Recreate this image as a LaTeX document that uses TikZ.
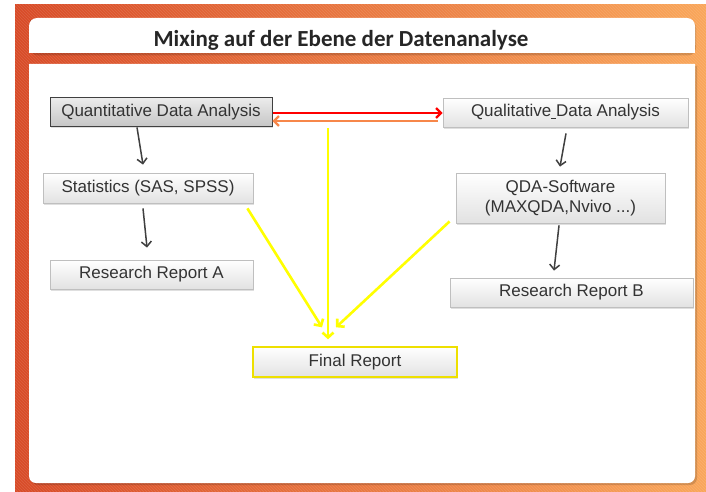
\documentclass[tikz,border=0pt]{standalone}
\usepackage{fontspec}
\setmainfont{Liberation Sans}
\newfontfamily\titlefont{Carlito}
\usetikzlibrary{arrows.meta,shadows,patterns,calc}
\definecolor{bgleft}{HTML}{D84B28}
\definecolor{bgright}{HTML}{F9A65A}
\definecolor{boxline}{HTML}{BFBFBF}
\definecolor{boxbot}{HTML}{E2E2E2}
\definecolor{txt}{HTML}{333333}
\definecolor{arrgray}{HTML}{404040}
\definecolor{yel}{HTML}{FFFF00}
\definecolor{yelline}{HTML}{EEE000}
\definecolor{redarr}{HTML}{FF0000}
\definecolor{orarr}{HTML}{F7874A}
\begin{document}
\begin{tikzpicture}[x=1pt,y=-1pt,
  box/.style={draw=boxline, line width=0.8pt, top color=white, bottom color=boxbot,
    text=txt, font=\fontsize{17}{20}\selectfont, inner sep=0pt, align=center,
    drop shadow={shadow xshift=1.2pt, shadow yshift=-1.5pt, opacity=0.25}},
  darkbox/.style={box, draw=arrgray, top color=white!85!gray, bottom color=gray!45},
  finalbox/.style={box, draw=yelline, line width=1.4pt},
  garrow/.style={draw=arrgray, line width=1.5pt, -{Straight Barb[length=5pt,width=10pt,line width=1.5pt]}},
  yarrow/.style={draw=yel, line width=2.6pt, -{Straight Barb[length=5pt,width=11pt,line width=2.6pt]}},
  rarrow/.style={draw=redarr, line width=2.2pt, -{Straight Barb[length=5pt,width=10pt,line width=2.2pt]}},
  oarrow/.style={draw=orarr, line width=2.2pt, -{Straight Barb[length=5pt,width=10pt,line width=2.2pt]}}
]
\useasboundingbox (0,0) rectangle (706,492);
% background
\shade[left color=bgleft, right color=bgright] (15,5) rectangle (706,492);
\fill[pattern=north west lines, pattern color=white, opacity=0.12] (15,5) rectangle (706,492);
% title box
\fill[black, opacity=0.15] (30,20) [rounded corners=8pt] -- (30,55.5) -- (696,55.5) -- (696,20) [sharp corners] -- cycle;
\fill[white, rounded corners=8pt] (29,53) -- (29,18) -- (695,18) -- (695,53) [sharp corners] -- cycle;
\fill[white] (29,45) rectangle (695,53);
\node[font=\titlefont\bfseries\fontsize{23}{27}\selectfont, text=black!85] (title) at (341,40) {Mixing auf der Ebene der Datenanalyse};
% content box
\fill[black, opacity=0.15, rounded corners=7pt] (31,66) -- (31,485) -- (697,485) -- (697,66);
\fill[white] (29,64) [rounded corners=7pt] -- (29,483) -- (695,483) [sharp corners] -- (695,64) -- cycle;
% nodes
\node[darkbox, minimum width=222pt, minimum height=29pt] (qn) at (161,112) {Quantitative Data Analysis};
\node[box, minimum width=245pt, minimum height=29pt] (ql) at (565.5,112.5) {Qualitative\underline{ }Data Analysis};
\node[box, minimum width=209pt, minimum height=50pt] (qda) at (560.5,198) {QDA-Software\\(MAXQDA,Nvivo ...)};
\node[box, minimum width=210pt, minimum height=30pt] (stat) at (148,188) {Statistics (SAS, SPSS)};
\node[box, minimum width=203pt, minimum height=29pt] (rra) at (151.5,274.5) {Research Report A};
\node[box, minimum width=243pt, minimum height=29pt] (rrb) at (571.5,292.5) {Research Report B};
\node[finalbox, minimum width=204pt, minimum height=30pt] (fr) at (355,362) {Final Report};
% red / orange arrows
\draw[rarrow] ($(qn.east)+(1,1)$) -- ($(ql.west)+(0,0.5)$);
\draw[oarrow] ($(ql.west)+(-5,8.5)$) -- ($(qn.east)+(0,9)$);
% gray arrows
\draw[garrow] ($(qn.south)+(-24,0.5)$) -- ($(stat.north)+(-5,-8)$);
\draw[garrow] ($(stat.south)+(-5,5)$) -- ($(rra.north)+(-4.5,-12)$);
\draw[garrow] ($(ql.south)+(0.5,6)$) -- ($(qda.north)+(-0.5,-6)$);
\draw[garrow] ($(qda.south)+(-1.5,2)$) -- ($(rrb.north)+(-17.5,-7)$);
% yellow arrows
\coordinate (ys) at (328,128);
\draw[yarrow] (ys) -- ($(fr.north)+(-27,-7)$);
\draw[yarrow] ($(stat.south east)+(-6,5)$) -- ($(fr.north)+(-33,-19)$);
\draw[yarrow] ($(qda.south west)+(-6,-2)$) -- ($(fr.north)+(-19,-19)$);
\end{tikzpicture}
\end{document}
